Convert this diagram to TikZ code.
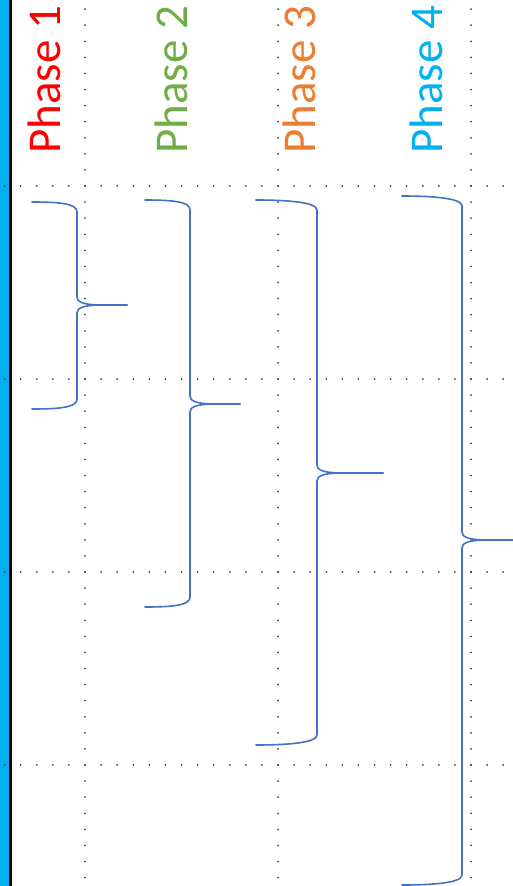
\documentclass[tikz,border=0pt]{standalone}
\usepackage{fontspec}
\setmainfont{Carlito}
\definecolor{barblue}{HTML}{00B0F0}
\definecolor{bracecol}{HTML}{4472C4}
\definecolor{ph1}{HTML}{FF0000}
\definecolor{ph2}{HTML}{70AD47}
\definecolor{ph3}{HTML}{ED7D31}
\definecolor{ph4}{HTML}{00B0F0}
\definecolor{dotcol}{HTML}{404040}
\tikzset{
  phaselabel/.style={rotate=90,anchor=base,inner sep=0pt,font=\fontsize{47}{56}\selectfont},
  gdot/.style={fill=dotcol,draw=none},
  bracestyle/.style={draw=bracecol,line width=1.6pt,line cap=round,line join=round}
}
% #1 end x, #2 spine x, #3 tip x, #4 top y, #5 mid y, #6 bottom y
\newcommand{\mybrace}[6]{%
  \draw[bracestyle] (#1,#4) .. controls ({#1+30},#4) and (#2,{#4+2}) .. (#2,{#4+10})
    -- (#2,{#5-8}) .. controls (#2,{#5-3}) and ({#2+6},{#5-0.5}) .. ({#2+22},#5) -- (#3,#5);
  \draw[bracestyle] (#3,#5) -- ({#2+22},#5) .. controls ({#2+6},{#5+0.5}) and (#2,{#5+3}) .. (#2,{#5+8})
    -- (#2,{#6-10}) .. controls (#2,{#6-2}) and ({#1+30},#6) .. (#1,#6);
}
\begin{document}
\begin{tikzpicture}[x=1pt,y=-1pt]
\useasboundingbox (0,0) rectangle (513,886);
\clip (0,0) rectangle (513,886);
\fill[white] (0,0) rectangle (513,886);
% left bar
\fill[barblue] (0,0) rectangle (9,886);
\fill[black] (9,0) rectangle (12,886);
% dotted grid
\foreach \gx in {85,278,471}{
  \foreach \k in {0,...,55}{
    \fill[gdot] (\gx,{9.1+16.083*\k}) circle (1pt);
  }
}
\foreach \gy in {186,379,572,765}{
  \foreach \k in {0,...,32}{
    \fill[gdot] ({4.6+16.083*\k},\gy) circle (1pt);
  }
}
% labels
\node[phaselabel,text=ph1] (p1) at (60,80) {Phase 1};
\node[phaselabel,text=ph2] (p2) at (187,80) {Phase 2};
\node[phaselabel,text=ph3] (p3) at (315,80) {Phase 3};
\node[phaselabel,text=ph4] (p4) at (442,80) {Phase 4};
% braces
\mybrace{32}{77}{127}{202}{305}{409}
\mybrace{145}{190}{240}{200}{404}{607}
\mybrace{256}{317}{383}{200}{473}{745}
\mybrace{402}{462}{520}{196}{540}{885}
\end{tikzpicture}
\end{document}
